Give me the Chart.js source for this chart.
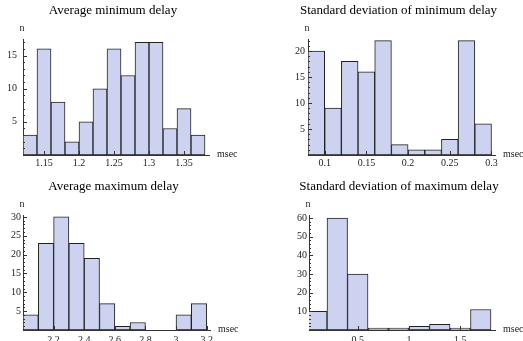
<!DOCTYPE html>
<html>
<head>
<meta charset="utf-8">
<script src="https://cdn.jsdelivr.net/npm/chart.js@4"></script>
<style>
  body { margin: 0; background: #fff; }
  #wrap { position: relative; width: 523px; height: 341px; overflow: hidden; }
  canvas { position: absolute; }
</style>
</head>
<body>
<div id="wrap">
  <canvas id="c1" width="262" height="170" style="left:0;top:0"></canvas>
  <canvas id="c2" width="261" height="170" style="left:262px;top:0"></canvas>
  <canvas id="c3" width="262" height="171" style="left:0;top:170px"></canvas>
  <canvas id="c4" width="261" height="171" style="left:262px;top:170px"></canvas>
</div>
<script>
// bin edges (msec) and counts
const avgMinEdges = [1.12, 1.14, 1.16, 1.18, 1.20, 1.22, 1.24, 1.26, 1.28, 1.30, 1.32, 1.34, 1.36, 1.38];
const avgMinCounts = [3, 16, 8, 2, 5, 10, 16, 12, 17, 17, 4, 7, 3];
const avgMinXTicks = [1.15, 1.2, 1.25, 1.3, 1.35];
const avgMinYTicks = [5, 10, 15];

const sdMinEdges = [0.08, 0.10, 0.12, 0.14, 0.16, 0.18, 0.20, 0.22, 0.24, 0.26, 0.28, 0.30];
const sdMinCounts = [20, 9, 18, 16, 22, 2, 1, 1, 3, 22, 6];
const sdMinXTicks = [0.1, 0.15, 0.2, 0.25, 0.3];
const sdMinYTicks = [5, 10, 15, 20];

const avgMaxEdges = [2.0, 2.1, 2.2, 2.3, 2.4, 2.5, 2.6, 2.7, 2.8, 2.9, 3.0, 3.1, 3.2];
const avgMaxCounts = [4, 23, 30, 23, 19, 7, 1, 2, 0, 0, 4, 7];
const avgMaxXTicks = [2.2, 2.4, 2.6, 2.8, 3, 3.2];
const avgMaxYTicks = [5, 10, 15, 20, 25, 30];

const sdMaxEdges = [0.0, 0.2, 0.4, 0.6, 0.8, 1.0, 1.2, 1.4, 1.6, 1.8];
const sdMaxCounts = [10, 60, 30, 1, 1, 2, 3, 1, 11];
const sdMaxXTicks = [0.5, 1, 1.5];
const sdMaxYTicks = [10, 20, 30, 40, 50, 60];

const SERIF = '"Liberation Serif", "DejaVu Serif", serif';

// inward major/minor ticks + title, "n" and "msec" labels
const decorPlugin = {
  id: 'decor',
  afterDatasetsDraw(chart, args, opts) {
    const { ctx, chartArea: a, scales: { x, y } } = chart;
    ctx.save();
    ctx.strokeStyle = '#333';
    ctx.lineWidth = 1;
    ctx.beginPath();
    for (let v = 0; v <= y.max; v += opts.yMinor) {
      const py = Math.round(y.getPixelForValue(v)) + 0.5;
      ctx.moveTo(a.left, py); ctx.lineTo(a.left + 2, py);
    }
    y.ticks.forEach(t => {
      const py = Math.round(y.getPixelForValue(t.value)) + 0.5;
      ctx.moveTo(a.left, py); ctx.lineTo(a.left + 4, py);
    });
    x.ticks.forEach(t => {
      const px = Math.round(x.getPixelForValue(t.value)) + 0.5;
      ctx.moveTo(px, a.bottom); ctx.lineTo(px, a.bottom - 4);
    });
    ctx.stroke();

    ctx.fillStyle = '#000';
    ctx.textAlign = 'center';
    ctx.textBaseline = 'middle';
    ctx.font = '13px ' + SERIF;
    ctx.fillText(opts.title, (a.left + a.right) / 2 - 3, a.top - 28.5);
    ctx.fillStyle = '#222';
    ctx.font = '10px ' + SERIF;
    ctx.fillText('n', a.left - 1, a.top - 11);
    ctx.textAlign = 'left';
    ctx.fillText('msec', a.right + 8, a.bottom - 1);
    ctx.restore();
  }
};

function histogram(id, edges, counts, xTicks, yTicks, o) {
  const data = counts.map((c, i) => ({ x: (edges[i] + edges[i + 1]) / 2, y: c }));
  new Chart(document.getElementById(id).getContext('2d'), {
    type: 'bar',
    data: {
      datasets: [{
        data: data,
        backgroundColor: 'rgb(205, 210, 240)',
        borderColor: '#222',
        borderWidth: 1,
        borderSkipped: false,
        barPercentage: 1,
        categoryPercentage: 1
      }]
    },
    options: {
      responsive: false,
      animation: false,
      devicePixelRatio: 1,
      layout: { padding: { left: 0, top: o.top, right: o.right, bottom: 0 } },
      plugins: {
        legend: { display: false },
        tooltip: { enabled: false },
        decor: { title: o.title, yMinor: o.yMinor }
      },
      scales: {
        x: {
          type: 'linear',
          offset: false,
          min: o.xMin,
          max: o.xMax,
          afterBuildTicks: s => { s.ticks = xTicks.map(v => ({ value: v })); },
          afterFit: s => { s.height = o.xHeight; },
          ticks: {
            autoSkip: false, maxRotation: 0, padding: o.xPad,
            color: '#222', font: { family: SERIF, size: 10 },
            callback: v => String(v)
          },
          grid: { drawOnChartArea: false, drawTicks: false },
          border: { display: true, color: '#333', width: 1 }
        },
        y: {
          type: 'linear',
          min: 0,
          max: o.yMax,
          afterBuildTicks: s => { s.ticks = yTicks.map(v => ({ value: v })); },
          afterFit: s => { s.width = o.yWidth; },
          ticks: {
            autoSkip: false, padding: o.yPad,
            color: '#222', font: { family: SERIF, size: 10 },
            callback: v => String(v)
          },
          grid: { drawOnChartArea: false, drawTicks: false },
          border: { display: true, color: '#333', width: 1 }
        }
      }
    },
    plugins: [decorPlugin]
  });
}

histogram('c1', avgMinEdges, avgMinCounts, avgMinXTicks, avgMinYTicks, {
  title: 'Average minimum delay', xMin: 1.12, xMax: 1.3857, yMax: 17.5, yMinor: 1,
  top: 39, right: 53, xHeight: 15, yWidth: 23, yPad: 6, xPad: 2
});
histogram('c2', sdMinEdges, sdMinCounts, sdMinXTicks, sdMinYTicks, {
  title: 'Standard deviation of minimum delay', xMin: 0.08, xMax: 0.3042, yMax: 22.3, yMinor: 1,
  top: 39, right: 28, xHeight: 15, yWidth: 46, yPad: 3, xPad: 2
});
histogram('c3', avgMaxEdges, avgMaxCounts, avgMaxXTicks, avgMaxYTicks, {
  title: 'Average maximum delay', xMin: 2.0, xMax: 3.222, yMax: 30.5, yMinor: 1,
  top: 45, right: 52, xHeight: 11, yWidth: 23, yPad: 2, xPad: 4
});
histogram('c4', sdMaxEdges, sdMaxCounts, sdMaxXTicks, sdMaxYTicks, {
  title: 'Standard deviation of maximum delay', xMin: 0.024, xMax: 1.839, yMax: 61.6, yMinor: 2,
  top: 45, right: 28, xHeight: 11, yWidth: 47, yPad: 2, xPad: 4
});
</script>
</body>
</html>
